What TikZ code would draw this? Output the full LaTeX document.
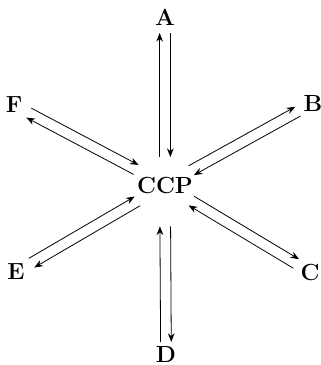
\documentclass[tikz,border=0pt]{standalone}
\usepackage{fontspec}
\usetikzlibrary{arrows.meta,calc}
\tikzset{lbl/.style={font=\fontsize{17.5}{21}\selectfont\bfseries,inner sep=0pt}}

\begin{document}
\begin{tikzpicture}[x=0.75pt,y=-0.75pt,>={Stealth[length=6.5pt,width=5pt]},line join=round,semithick]
\useasboundingbox (0,0) rectangle (321,365);
% --- hub and the six partners
\node[lbl] (ccp) at (165,185) {CCP};
\node[lbl] (a) at (165,17) {A};
\node[lbl] (b) at (313,103) {B};
\node[lbl] (c) at (310,272) {C};
\node[lbl] (d) at (166,354) {D};
\node[lbl] (e) at (16,272) {E};
\node[lbl] (f) at (14,105) {F};
% --- two-way links: outgoing on one side, incoming on the other
\foreach \n/\i/\o in {a/21pt/12pt, b/22.5pt/13pt, c/23pt/12pt, d/31pt/9pt, e/24pt/13.5pt, f/24.5pt/12.6pt} {
  \draw[->,shorten <=\i,shorten >=\o] ($(ccp)!4pt!90:(\n)$) -- ($(\n)!4pt!-90:(ccp)$);
  \draw[->,shorten <=\o,shorten >=\i] ($(\n)!4pt!90:(ccp)$) -- ($(ccp)!4pt!-90:(\n)$);
}
\end{tikzpicture}
\end{document}
